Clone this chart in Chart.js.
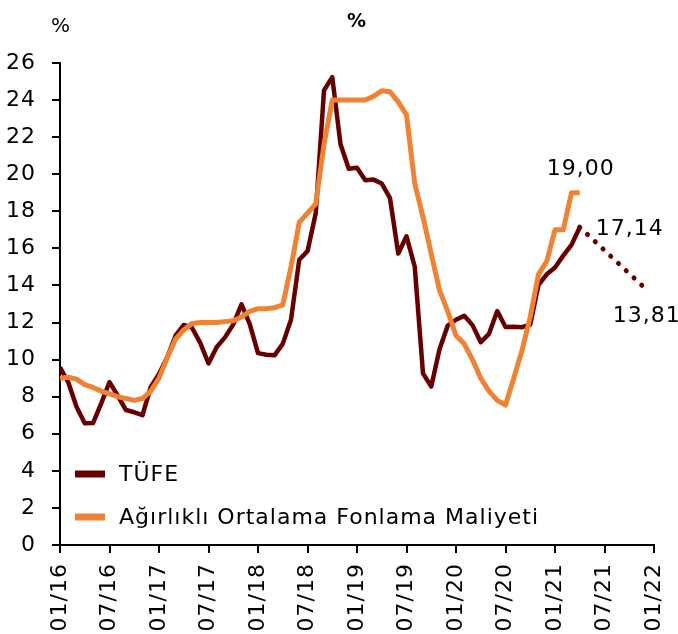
<!DOCTYPE html>
<html>
<head>
<meta charset="utf-8">
<script src="https://cdn.jsdelivr.net/npm/chart.js@4/dist/chart.umd.min.js"></script>
<style>
  html, body { margin: 0; padding: 0; background: #fff; }
  #wrap { width: 678px; height: 634px; position: relative; }
</style>
</head>
<body>
<div id="wrap"><canvas id="c"></canvas></div>
<script>
// Monthly series, starting 01/2016 (month index 0)
const tickLabels = ['01/16','07/16','01/17','07/17','01/18','07/18','01/19','07/19','01/20','07/20','01/21','07/21','01/22'];

const tufe = [
  9.58, 8.78, 7.46, 6.57, 6.58, 7.64, 8.79, 8.05, 7.28, 7.16, 7.00, 8.53,
  9.22, 10.13, 11.29, 11.87, 11.72, 10.90, 9.79, 10.68, 11.20, 11.90, 12.98, 11.92,
  10.35, 10.26, 10.23, 10.85, 12.15, 15.39, 15.85, 17.90, 24.52, 25.24, 21.62, 20.30,
  20.35, 19.67, 19.71, 19.50, 18.71, 15.72, 16.65, 15.01, 9.26, 8.55, 10.56, 11.84,
  12.15, 12.37, 11.86, 10.94, 11.39, 12.62, 11.76, 11.77, 11.75, 11.89, 14.03, 14.60,
  14.97, 15.61, 16.19, 17.14
];

const fonlama = [
  9.0, 9.05, 8.95, 8.65, 8.5, 8.3, 8.15, 8.0, 7.9, 7.8, 7.9, 8.3,
  9.0, 10.1, 11.1, 11.6, 11.95, 12.0, 12.0, 12.0, 12.05, 12.1, 12.3, 12.6,
  12.75, 12.75, 12.8, 12.95, 15.0, 17.4, 17.9, 18.4, 21.6, 24.0, 24.0, 24.0,
  24.0, 24.0, 24.2, 24.5, 24.45, 23.9, 23.2, 19.5, 17.7, 15.7, 13.75, 12.6,
  11.3, 10.85, 10.0, 9.0, 8.3, 7.8, 7.55, 9.0, 10.5, 12.3, 14.6, 15.3,
  17.0, 17.0, 19.0, 19.0
];

// Expectation path: 04/2021 -> 12/2021
const beklentiStart = 63; // month index of 04/2021
const beklenti = [17.14, null, null, null, null, null, null, null, 13.81];

const seriesNames = ['TÜFE', 'Ağırlıklı Ortalama Fonlama Maliyeti'];
const valueLabels = ['19,00', '17,14', '13,81'];

const DARK = '#660000';
const ORANGE = '#ef8233';
const FONT = 'DejaVu Sans';

const toXY = (arr, start) => arr.map((v, i) => ({ x: start + i, y: v }));

const spacingPlugin = {
  id: 'spacing',
  beforeUpdate(chart) { chart.ctx.letterSpacing = '1px'; },
  beforeLayout(chart) { chart.ctx.letterSpacing = '1px'; },
  beforeDraw(chart) { chart.ctx.letterSpacing = '1px'; }
};

const textPlugin = {
  id: 'texts',
  afterDraw(chart) {
    const { ctx, scales: { x, y } } = chart;
    ctx.save();
    ctx.letterSpacing = '1px';
    ctx.fillStyle = '#000';
    // top-left unit
    ctx.font = '20px "' + FONT + '"';
    ctx.textAlign = 'center';
    ctx.textBaseline = 'middle';
    ctx.fillText('%', 61, 27);
    // title
    ctx.font = 'bold 19px "' + FONT + '"';
    ctx.fillText('%', (chart.chartArea.left + chart.chartArea.right) / 2, 22);

    // value labels
    ctx.font = '22px "' + FONT + '"';
    ctx.textBaseline = 'alphabetic';
    ctx.textAlign = 'center';
    ctx.fillText(valueLabels[0], x.getPixelForValue(63) + 1, y.getPixelForValue(19.0) - 18);
    ctx.textAlign = 'left';
    ctx.fillText(valueLabels[1], x.getPixelForValue(63) + 16, y.getPixelForValue(17.14) + 8);
    ctx.fillText(valueLabels[2], x.getPixelForValue(71) - 33, y.getPixelForValue(13.81) + 33);

    // legend
    const items = [[seriesNames[0], DARK], [seriesNames[1], ORANGE]];
    const ly0 = 474, lgap = 43;
    items.forEach((it, i) => {
      const yy = ly0 + i * lgap;
      ctx.strokeStyle = it[1];
      ctx.lineWidth = 7;
      ctx.lineCap = 'butt';
      ctx.beginPath();
      ctx.moveTo(75, yy);
      ctx.lineTo(105, yy);
      ctx.stroke();
      ctx.font = '22px "' + FONT + '"';
      ctx.textAlign = 'left';
      ctx.textBaseline = 'middle';
      ctx.fillText(it[0], 119, yy + 1);
    });
    ctx.restore();
  }
};

new Chart(document.getElementById('c'), {
  type: 'line',
  data: {
    datasets: [
      {
        label: seriesNames[1],
        data: toXY(fonlama, 0),
        borderColor: ORANGE,
        borderWidth: 5,
        pointRadius: 0,
        tension: 0,
        borderJoinStyle: 'round'
      },
      {
        label: seriesNames[0],
        data: toXY(tufe, 0),
        borderColor: DARK,
        borderWidth: 4.5,
        pointRadius: 0,
        tension: 0,
        borderJoinStyle: 'round'
      },
      {
        label: 'Beklenti',
        data: toXY(beklenti, beklentiStart),
        borderColor: DARK,
        borderWidth: 5,
        borderDash: [0.1, 10.5],
        borderCapStyle: 'round',
        spanGaps: true,
        pointRadius: 0,
        tension: 0
      }
    ]
  },
  options: {
    responsive: true,
    maintainAspectRatio: false,
    animation: false,
    layout: { padding: { top: 63, right: 24, left: 0, bottom: 0 } },
    plugins: {
      legend: { display: false },
      title: { display: false },
      tooltip: { enabled: false }
    },
    scales: {
      x: {
        type: 'linear',
        min: 0,
        max: 72,
        afterFit: (s) => { s.height = 89; s.paddingLeft = 0; s.paddingRight = 0; },
        ticks: {
          stepSize: 6,
          autoSkip: false,
          maxRotation: 90,
          minRotation: 90,
          padding: 10,
          color: '#000',
          font: { family: FONT, size: 22 },
          callback: (v) => tickLabels[v / 6]
        },
        grid: { drawOnChartArea: false, drawTicks: true, tickLength: 8, color: '#000', lineWidth: 2 },
        border: { color: '#000', width: 2 }
      },
      y: {
        min: 0,
        max: 26,
        afterFit: (s) => { s.width = 60; s.paddingTop = 0; s.paddingBottom = 0; },
        ticks: {
          stepSize: 2,
          padding: 16,
          color: '#000',
          font: { family: FONT, size: 22 }
        },
        grid: { drawOnChartArea: false, drawTicks: true, tickLength: 8, color: '#000', lineWidth: 2 },
        border: { color: '#000', width: 2 }
      }
    }
  },
  plugins: [spacingPlugin, textPlugin]
});
</script>
</body>
</html>
